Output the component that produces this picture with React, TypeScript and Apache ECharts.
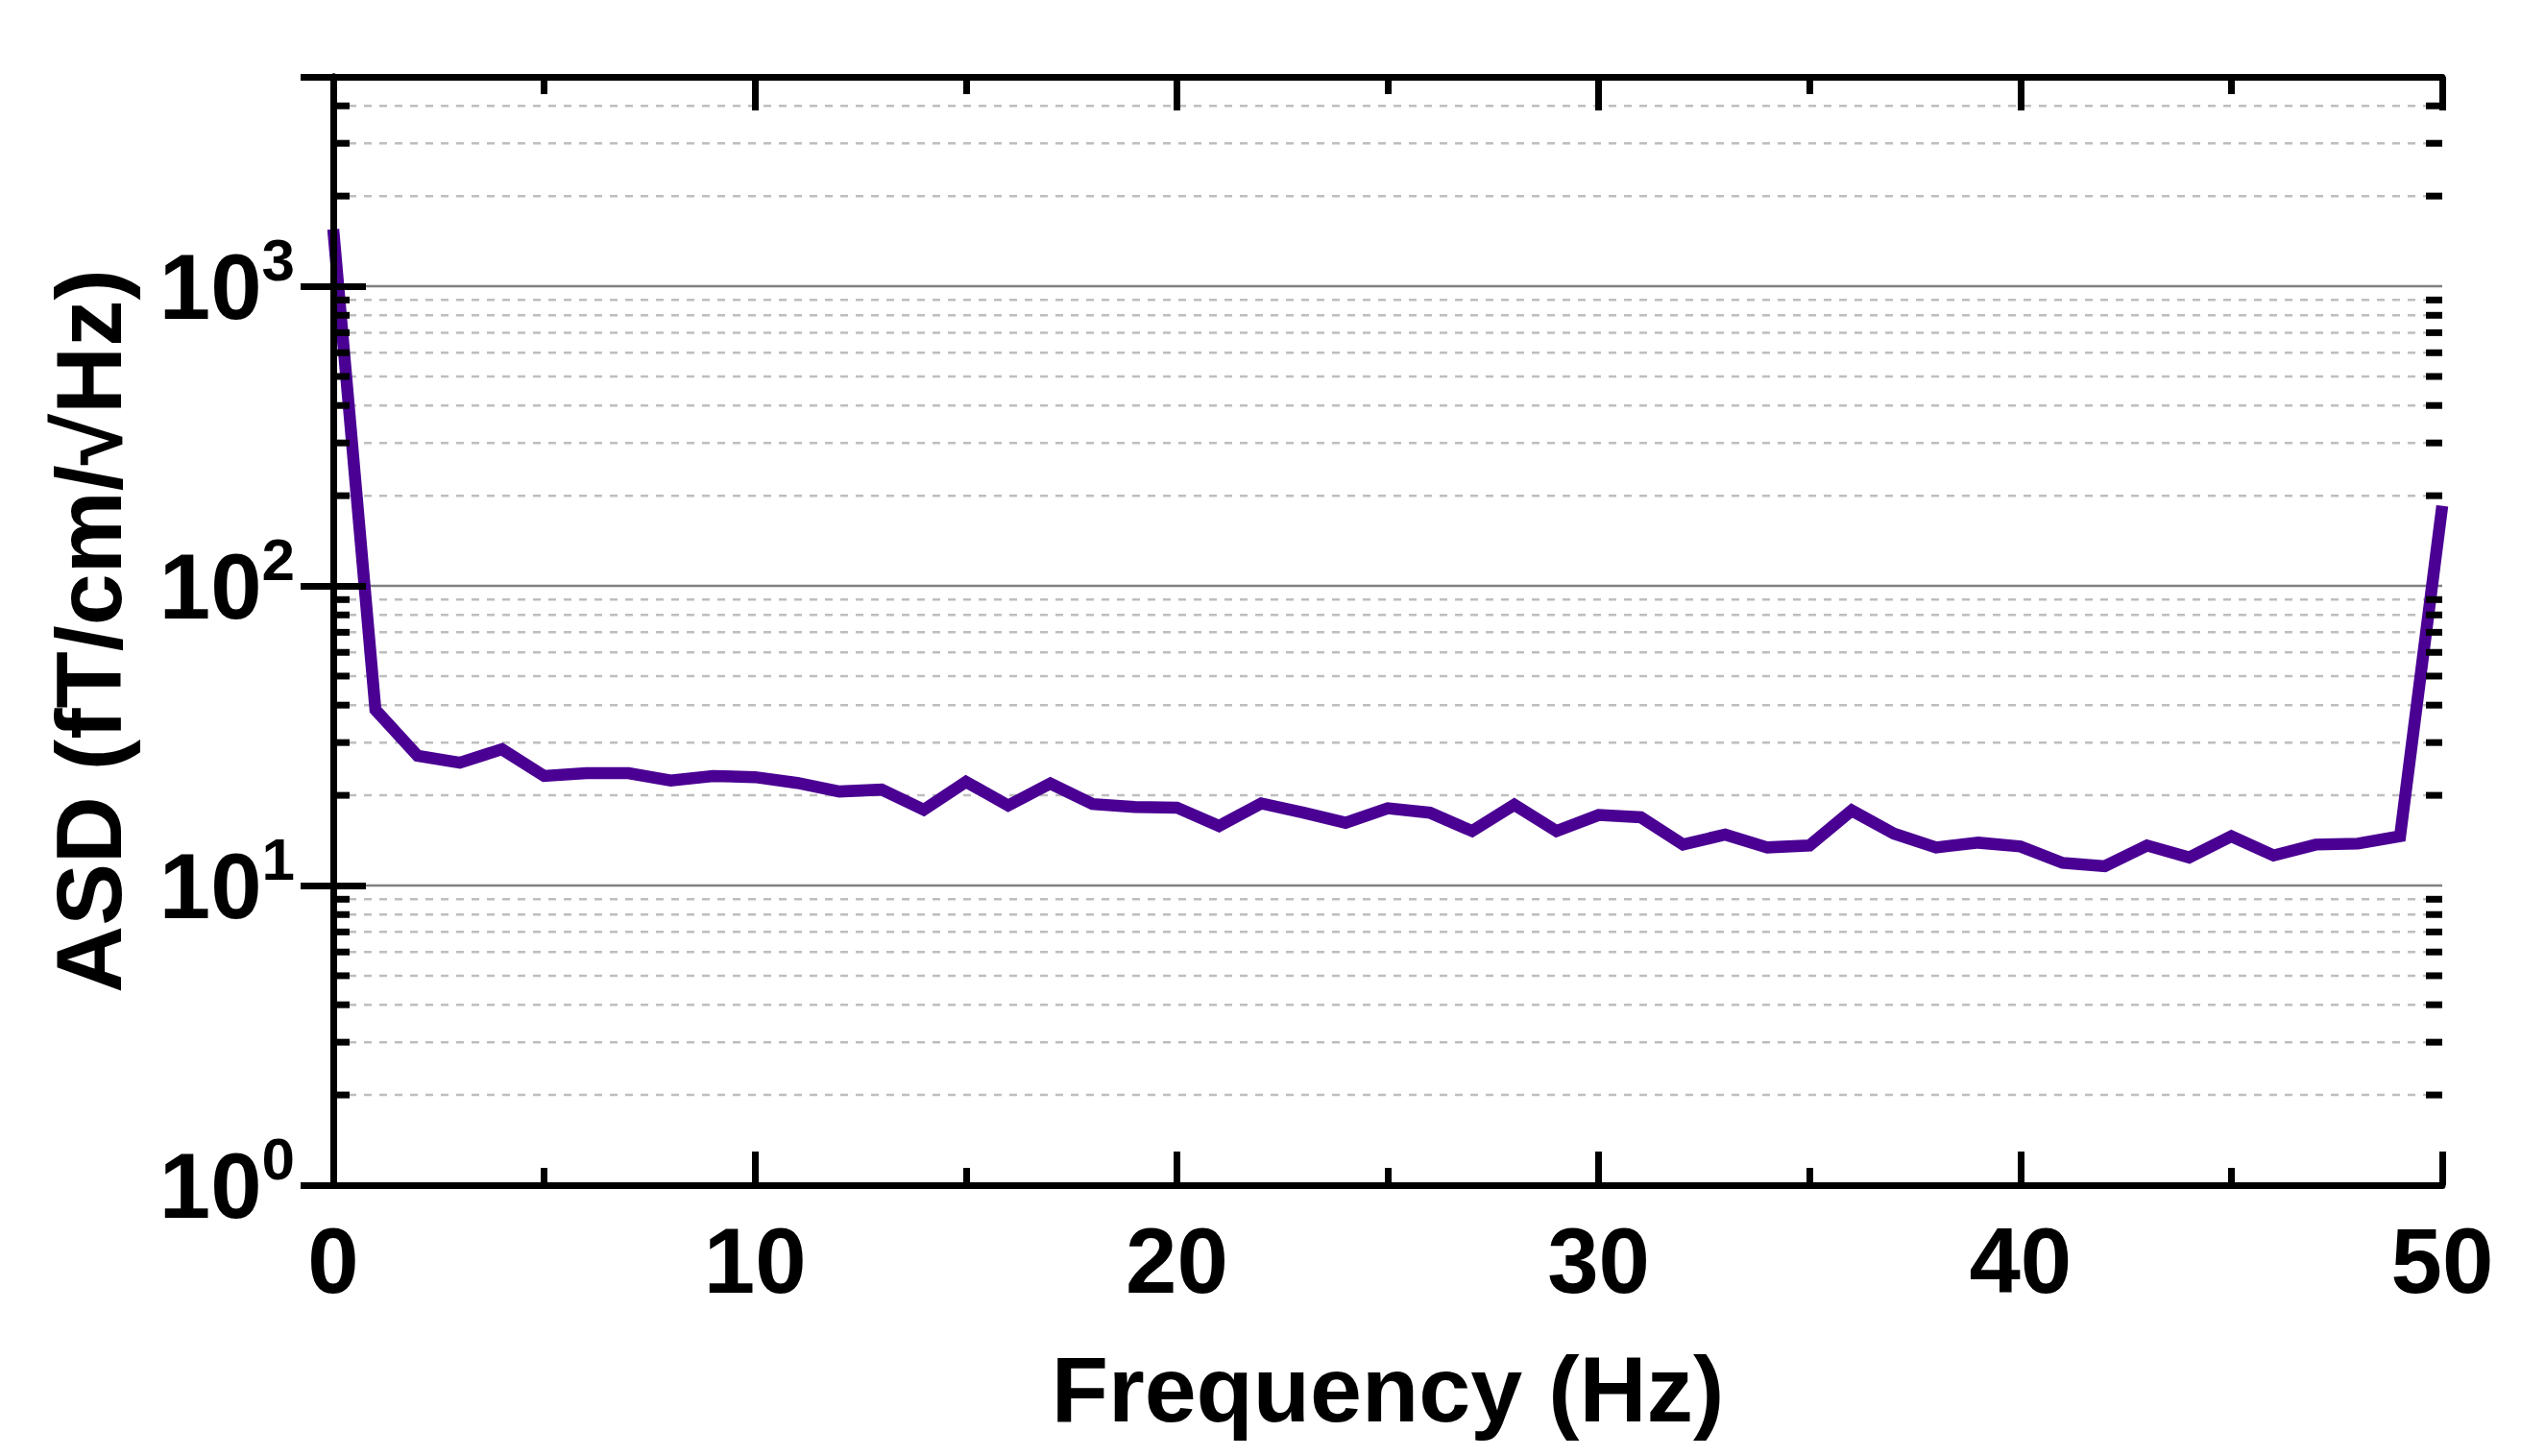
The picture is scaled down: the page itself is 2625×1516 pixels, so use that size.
import React, { useEffect, useRef } from "react";
import * as echarts from "echarts";

const FONT = "'Liberation Sans', Arial, sans-serif";

const frequency = [
  0, 1, 2, 3, 4, 5, 6, 7, 8, 9, 10, 11, 12, 13, 14, 15, 16, 17, 18, 19, 20,
  21, 22, 23, 24, 25, 26, 27, 28, 29, 30, 31, 32, 33, 34, 35, 36, 37, 38, 39,
  40, 41, 42, 43, 44, 45, 46, 47, 48, 49, 50,
];

const asd = [
  1550, 38.6, 27.1, 25.7, 28.5, 23.2, 23.7, 23.7, 22.4, 23.2, 23.0, 22.0, 20.6,
  20.9, 17.9, 22.2, 18.5, 21.9, 18.7, 18.3, 18.2, 15.8, 18.8, 17.5, 16.2, 18.1,
  17.5, 15.2, 18.6, 15.2, 17.2, 16.9, 13.7, 14.8, 13.4, 13.6, 17.8, 14.9, 13.4,
  13.9, 13.5, 11.9, 11.6, 13.6, 12.4, 14.6, 12.6, 13.7, 13.8, 14.6, 185,
];

const decadeValues = [10, 100, 1000];
const minorValues = [
  2, 3, 4, 5, 6, 7, 8, 9, 20, 30, 40, 50, 60, 70, 80, 90, 200, 300, 400, 500,
  600, 700, 800, 900, 2000, 3000, 4000,
];

const X_MIN = 0;
const X_MAX = 50;
const X_STEP = 10;
const Y_MIN = 1;
const Y_MAX = 5000;

export default function App() {
  const ref = useRef<HTMLDivElement>(null);

  useEffect(() => {
    if (!ref.current) return;
    const chart = echarts.init(ref.current, null, { renderer: "svg" });

    const axisLine = { show: true, lineStyle: { color: "#000", width: 7 } };
    const tickStyle = { color: "#000", width: 7 };

    const xBase = {
      type: "value",
      min: X_MIN,
      max: X_MAX,
      interval: X_STEP,
      z: 10,
      axisLine,
      axisTick: { show: true, inside: true, length: 35, lineStyle: tickStyle },
      minorTick: { show: true, splitNumber: 2, length: 18, lineStyle: tickStyle },
      splitLine: { show: false },
      minorSplitLine: { show: false },
    };

    const yBase = {
      type: "log",
      logBase: 10,
      min: Y_MIN,
      max: Y_MAX,
      z: 10,
      axisLine,
      axisTick: { show: true, inside: true, length: 34, lineStyle: tickStyle },
      splitLine: { show: false },
    };

    const supFormatter = (v: number) => {
      const e = Math.log10(v);
      const r = Math.round(e);
      if (Math.abs(e - r) > 1e-6) return "";
      return `{b|10}{s|${r}}`;
    };

    const option = {
      animation: false,
      backgroundColor: "#fff",
      grid: { left: 347, right: 82, top: 80, bottom: 282, containLabel: false },
      xAxis: [
        {
          ...xBase,
          position: "bottom",
          axisLabel: {
            show: true,
            margin: 30,
            fontSize: 96,
            fontWeight: "bold",
            color: "#000",
            fontFamily: FONT,
          },
          name: "Frequency (Hz)",
          nameLocation: "middle",
          nameGap: 164,
          nameTextStyle: {
            fontSize: 97,
            fontWeight: "bold",
            color: "#000",
            fontFamily: FONT,
          },
        },
        {
          ...xBase,
          position: "top",
          axisLabel: { show: false },
        },
      ],
      yAxis: [
        {
          ...yBase,
          position: "left",
          axisLabel: {
            show: true,
            margin: 40,
            formatter: supFormatter,
            rich: {
              b: {
                fontSize: 96,
                lineHeight: 96,
                fontWeight: "bold",
                color: "#000",
                fontFamily: FONT,
                verticalAlign: "bottom",
              },
              s: {
                fontSize: 62,
                lineHeight: 62,
                fontWeight: "bold",
                color: "#000",
                fontFamily: FONT,
                padding: [0, 0, 45, 0],
                verticalAlign: "bottom",
              },
            },
          },
          name: "ASD (fT/cm/√Hz)",
          nameLocation: "middle",
          nameRotate: 90,
          nameGap: 206,
          nameTextStyle: {
            fontSize: 97,
            fontWeight: "bold",
            color: "#000",
            fontFamily: FONT,
          },
        },
        {
          ...yBase,
          position: "right",
          axisLabel: { show: false },
        },
      ],
      series: [
        {
          type: "custom",
          name: "grid-major",
          z: 1,
          silent: true,
          xAxisIndex: 0,
          yAxisIndex: 0,
          data: decadeValues.map((v) => [X_MIN, v]),
          renderItem: (params: any, api: any) => {
            const cs = params.coordSys;
            const y = api.coord([X_MIN, api.value(1)])[1];
            return {
              type: "line",
              shape: { x1: cs.x, y1: y, x2: cs.x + cs.width, y2: y },
              style: { stroke: "#808080", lineWidth: 2.5 },
            };
          },
        },
        {
          type: "custom",
          name: "grid-minor",
          z: 1,
          silent: true,
          xAxisIndex: 0,
          yAxisIndex: 0,
          data: minorValues.map((v) => [X_MIN, v]),
          renderItem: (params: any, api: any) => {
            const cs = params.coordSys;
            const y = api.coord([X_MIN, api.value(1)])[1];
            return {
              type: "line",
              shape: { x1: cs.x, y1: y, x2: cs.x + cs.width, y2: y },
              style: { stroke: "#bebebe", lineWidth: 2.5, lineDash: [8, 8] },
            };
          },
        },
        {
          type: "line",
          name: "ASD",
          z: 3,
          xAxisIndex: 0,
          yAxisIndex: 0,
          data: frequency.map((f, i) => [f, asd[i]]),
          showSymbol: false,
          symbol: "none",
          lineStyle: { color: "#4a0093", width: 12.5, join: "miter", miterLimit: 4 },
          itemStyle: { color: "#4a0093" },
        },
        {
          type: "custom",
          name: "minor-ticks",
          z: 12,
          silent: true,
          xAxisIndex: 0,
          yAxisIndex: 0,
          data: minorValues.map((v) => [X_MIN, v]),
          renderItem: (params: any, api: any) => {
            const cs = params.coordSys;
            const y = api.coord([X_MIN, api.value(1)])[1];
            const len = 17;
            return {
              type: "group",
              children: [
                {
                  type: "line",
                  shape: { x1: cs.x, y1: y, x2: cs.x + len, y2: y },
                  style: { stroke: "#000", lineWidth: 7 },
                },
                {
                  type: "line",
                  shape: {
                    x1: cs.x + cs.width - len,
                    y1: y,
                    x2: cs.x + cs.width,
                    y2: y,
                  },
                  style: { stroke: "#000", lineWidth: 7 },
                },
              ],
            };
          },
        },
      ],
    };

    chart.setOption(option as any);
    return () => chart.dispose();
  }, []);

  return (
    <div
      ref={ref}
      style={{
        position: "fixed",
        left: 0,
        top: 0,
        width: 2625,
        height: 1516,
        background: "#fff",
      }}
    />
  );
}
